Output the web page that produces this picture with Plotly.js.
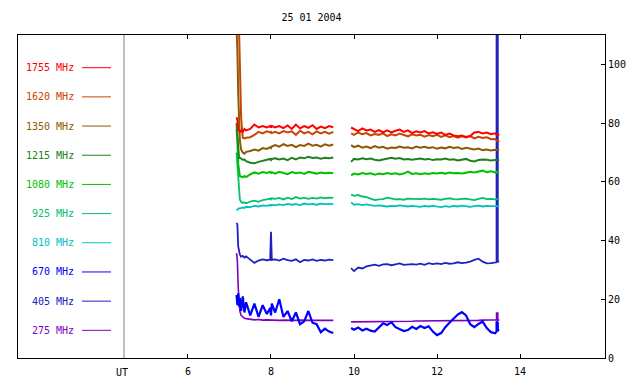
<!DOCTYPE html>
<html>
<head>
<meta charset="utf-8">
<script src="https://cdn.plot.ly/plotly-3.0.1.min.js"></script>
<style>html,body{margin:0;padding:0;background:#fff;}#chart{width:640px;height:384px;}</style>
</head>
<body>
<div id="chart"></div>
<script>
// ---- data (UT hours, flux units) ----
const chartTitle = '25 01 2004';
const freqLabels = ['1755 MHz','1620 MHz','1350 MHz','1215 MHz','1080 MHz','925 MHz','810 MHz','670 MHz','405 MHz','275 MHz'];
const xTickVals = [6, 8, 10, 12, 14];
const yTickVals = [0, 20, 40, 60, 80, 100];

const time = [
7.17,7.19,7.21,7.23,7.25,7.28,7.32,7.36,7.40,
7.5,7.6,7.7,7.8,7.9,
7.98,8.0,8.02,
8.1,8.2,8.3,8.4,8.5,8.6,8.7,8.8,8.9,9.0,9.1,9.2,9.3,9.4,9.5,
9.7,
9.93,
10.0,10.1,10.2,10.3,10.4,10.5,10.6,10.7,10.8,10.9,
11.0,11.1,11.2,11.3,11.4,11.5,11.6,11.7,11.8,11.9,
12.0,12.1,12.2,12.3,12.4,12.5,12.6,12.7,12.8,12.9,
13.0,13.1,13.2,13.3,13.4,
13.435,13.435,13.465,13.465,13.5];

const s1755 = [82,81,78,77.5,77,77.5,77,78,77.5,
78,79.5,78.5,79,78.5,
79,78.5,79,
78.5,79,78.3,79.2,78,79.5,78.2,79,78.4,79.3,78,78.8,78.3,79,78.6,
null,
78.5,
78,77.3,78.2,77.5,77.8,77,77.6,76.8,77.5,76.8,
77.4,77.8,77,77.5,76.6,77.2,76.8,77.3,76.5,76.9,
76.3,76.8,76,76.4,75.8,75.5,75.8,75.3,75.6,76.8,
77,76.5,76.8,76.2,76.5,
76,76.4,75.8,76.2,75.9];

const s1620 = [115,115,115,112,100,82,75,74.8,75,
75.2,76,77,76.5,77.2,
76.8,77,76.6,
77,76.5,77.3,76.8,77.2,76,77.4,76.5,77,76.2,77.2,76.5,77,76.4,77,
null,
76.5,
76,76.8,76.2,76.6,75.8,76.3,76,76.5,75.6,76.2,
75.8,76.4,76,75.5,76.2,75.8,76,75.4,75.9,75.5,
76,75.3,75.8,75.2,75.6,75,75.5,75.1,75.6,74.8,
75.3,74.9,75.2,74.5,74.6,
74,74.3,73.8,74.1,73.6];

const s1350 = [112,105,90,80,74,71,70,69.6,70.2,
70.5,71,70.6,71.5,71.2,
71.8,71.5,72,
72.5,72,72.8,72.2,72.6,71.8,72.5,72.2,73,72.3,72.6,72,72.8,72.3,72.7,
null,
72.5,
71.8,72.3,71.6,72,71.5,72.2,71.6,71.9,71.3,71.7,
71.5,72,71.6,71.8,71.4,72,71.6,71.9,71.5,71.8,
71.3,71.7,71.4,71.9,71.5,71.8,71.2,71.6,71.4,71,
71.3,70.8,71,70.7,70.9,
70.8,71,70.8,70.9,70.9];

const s1215 = [80,76,70,68,68.2,67.8,67.5,67.6,67,
66.5,66.3,66.8,67.2,67.6,
67.8,67.4,67.8,
68,67.6,67.9,67.4,68.2,67.6,68.3,68,68.5,68.1,68.3,67.9,68.2,68,68.3,
null,
66.8,
67.8,67.6,68,67.7,67.9,67.5,67.3,67.6,67.8,68.2,
67.9,68.1,67.6,67.8,67.5,67.7,67.9,67.6,67.8,67.4,
67.7,67.6,67.9,67.5,67.7,67.3,67.6,67.8,67.2,66.9,
67.4,67.6,67.5,67.3,67.4,
67.5,67.3,67.4,67.3,67.4];

const s1080 = [78,74,66,62.5,62,61.8,61.5,62,61.6,
62.5,63.2,62.8,63.3,63,
63.4,63,63.3,
62.8,63.4,63,62.6,63.3,62.9,63.2,62.7,63.4,63,62.8,63.2,62.9,63.1,62.9,
null,
62.2,
62.8,62.5,63,62.7,62.9,62.4,62.8,62.6,63,62.7,
62.9,62.5,62.8,63.5,62.7,62.9,62.6,62.9,62.7,63,
62.8,63.1,62.8,63.2,62.9,63,62.8,63.1,63.4,63.2,
63.5,63.8,63.3,63.6,63.2,
63.4,63.1,63.3,63.2,63.3];

const s925 = [70,66,60,56,54,53.2,52.8,53,52.7,
53.3,53.6,53.2,53.8,54,
54.3,54,54.4,
54.2,54.5,54,54.6,54.1,54.8,54.3,54.6,54.2,54.5,54.3,54.7,54.4,54.6,54.5,
null,
55.7,
55.2,55.5,55,54.8,54.3,53.8,54,54.1,54.6,54.2,
54,54.1,53.9,54.3,54.2,54,54.1,54.3,54,54.2,
54.1,53.9,54.2,54.4,54.1,54,54.2,54.3,54,53.8,
54.2,54.5,54.1,54.2,54,
54,54.1,53.9,54,54.1];

const s810 = [50.3,50.6,50.8,51,50.9,51.2,51.3,51.1,51.5,
51.4,51.8,51.6,52,51.8,
52.1,51.9,52.2,
52,52.3,52.1,52.5,52.2,52.4,52.1,52.6,52.3,52.5,52.2,52.6,52.4,52.5,52.5,
null,
53,
52.2,52.4,52.1,52.3,52,51.8,52,51.9,51.6,51.8,
51.7,52,51.8,51.6,51.8,51.7,51.5,51.8,51.6,51.8,
51.5,51.4,51.7,51.5,51.8,51.6,51.9,51.7,51.5,51.7,
51.9,51.6,51.8,51.7,51.8,
51.6,51.7,51.6,51.7,51.7];

const s670 = [21.5,18,22,17.5,20.5,16,21,15.5,19,
14.5,18.5,14,18,15,
17,14.5,18.5,
15.5,20,14,16,12.5,15.5,11.5,12.5,16,12,11.5,8.8,10,9,8.5,
null,
10.2,
9.6,10.4,9.4,10,9.3,9,10.5,11.8,11.2,12.2,
10.5,9.8,9.2,9.5,10.6,9.9,10.9,10.2,10.8,9,
7.8,8.5,10.5,12,13.5,14.8,15.6,14.5,11.5,10.5,
11.6,12.4,10.2,8.8,8.4,
9,12.4,12,9.5,9.3];

const s405 = [46,45.5,38,36,35.2,34.5,34.8,34.2,34.6,
33.5,32.4,33.2,33.6,33.3,
33.5,43,33.4,
33.6,33.2,33.8,33.3,33.1,33.6,32.6,33.4,33.2,33.6,33.1,33.4,33.2,33.5,33.3,
null,
30.6,
29.6,30.8,30.5,31.2,31.5,31.8,31.4,31.9,32,31.6,
31.9,32.2,31.7,31.8,32,31.8,32.1,31.7,32.3,32,
32.2,32,32.4,32.1,32.2,32.6,32.3,32.5,32.8,33.4,
33.8,32.8,32.2,32.3,32.4,
32.6,118,118,32.8,32.8];

const s275 = [35.7,33,24,19,16,14.5,13.8,13.5,13.4,
13.2,13,13.1,12.9,13,
12.9,12.9,12.9,
12.8,12.8,12.9,12.8,12.8,12.8,12.9,12.8,12.8,12.8,12.8,12.9,12.8,12.8,12.8,
null,
12.3,
12.3,12.3,12.3,12.4,12.4,12.4,12.4,12.4,12.4,12.5,
12.5,12.5,12.5,12.5,12.5,12.6,12.6,12.6,12.6,12.6,
12.6,12.7,12.7,12.7,12.7,12.7,12.8,12.8,12.8,12.8,
12.8,12.9,12.9,12.9,12.9,
13,15.3,15.3,12.9,12.9];

// ---- styling ----
const seriesList = [s1755, s1620, s1350, s1215, s1080, s925, s810, s670, s405, s275];
const colors = ['#ff0000','#c84600','#8c5a00','#208020','#00c000','#00c070','#00c0c0','#0000ff','#2020c0','#8000c0'];
const widths = [2, 2, 2, 2, 2, 1.8, 1.8, 2.2, 1.8, 1.6];
const FONT = 'DejaVu Sans Mono, Liberation Mono, monospace';

const traces = [];
for (let i = seriesList.length - 1; i >= 0; i--) {
  traces.push({
    x: time, y: seriesList[i], type: 'scatter', mode: 'lines',
    line: {color: colors[i], width: widths[i]}, connectgaps: false,
    hoverinfo: 'skip', showlegend: false
  });
}

// plot area in pixels: left 18, right 605, top 35, bottom 358
const L = 18, R = 605, T = 35, B = 358;
const px2paperX = p => (p - L) / (R - L);
const px2paperY = p => (B - p) / (B - T);

const shapes = [{
  type: 'line', xref: 'paper', yref: 'paper',
  x0: px2paperX(124), x1: px2paperX(124), y0: 0, y1: 1,
  line: {color: '#808080', width: 1}
}];
const annotations = [{
  xref: 'paper', yref: 'paper', x: px2paperX(122), y: px2paperY(372),
  text: 'UT', showarrow: false, xanchor: 'center', yanchor: 'middle',
  font: {family: FONT, size: 10, color: '#000'}
}];
freqLabels.forEach((lab, i) => {
  const py = 67.7 + i * 29.18;
  annotations.push({
    xref: 'paper', yref: 'paper', x: px2paperX(76), y: px2paperY(py),
    text: lab, showarrow: false, xanchor: 'right', yanchor: 'middle',
    font: {family: FONT, size: 10, color: colors[i]}
  });
  shapes.push({
    type: 'line', xref: 'paper', yref: 'paper',
    x0: px2paperX(82), x1: px2paperX(111), y0: px2paperY(py), y1: px2paperY(py),
    line: {color: colors[i], width: 1}
  });
});

const layout = {
  width: 640, height: 384,
  margin: {l: L, r: 640 - R, t: T, b: 384 - B, pad: 0},
  paper_bgcolor: '#fff', plot_bgcolor: '#fff',
  title: {text: chartTitle, x: 0.5, xref: 'paper', y: 1 - 17.5 / 384, yref: 'container',
          xanchor: 'center', yanchor: 'middle', font: {family: FONT, size: 10, color: '#000'}},
  xaxis: {
    range: [1.904, 16.048], tickvals: xTickVals, ticktext: xTickVals.map(String),
    ticks: 'inside', ticklen: 4, tickcolor: '#000', showline: true, linecolor: '#000', linewidth: 1,
    mirror: 'ticks', showgrid: false, zeroline: false,
    tickfont: {family: FONT, size: 10, color: '#000'}, ticklabelstandoff: 4
  },
  yaxis: {
    side: 'right', range: [0, 110], tickvals: yTickVals, ticktext: yTickVals.map(String),
    ticks: 'inside', ticklen: 4, tickcolor: '#000', showline: true, linecolor: '#000', linewidth: 1,
    mirror: true, showgrid: false, zeroline: false,
    tickfont: {family: FONT, size: 10, color: '#000'}
  },
  shapes: shapes,
  annotations: annotations
};

Plotly.newPlot('chart', traces, layout, {staticPlot: true, displayModeBar: false});
</script>
</body>
</html>
